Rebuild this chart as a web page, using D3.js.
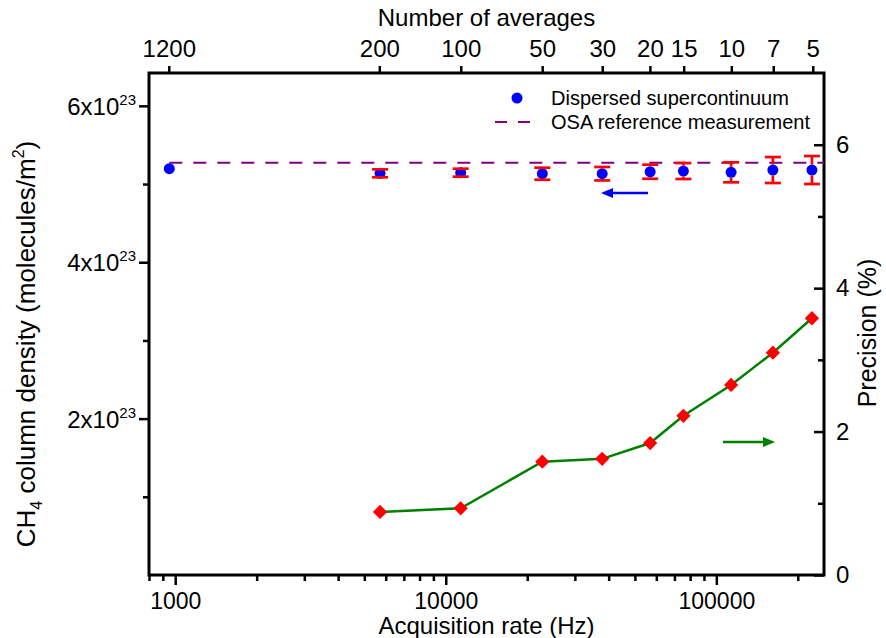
<!DOCTYPE html>
<html>
<head>
<meta charset="utf-8">
<script src="https://cdn.jsdelivr.net/npm/d3@7"></script>
<style>
  body { margin: 0; background: #fff; }
  text { font-family: "Liberation Sans", Arial, sans-serif; fill: #000; }
</style>
</head>
<body>
<div id="chart"></div>
<script>
// number of averages and matching acquisition rate (Hz)
var averages = [1200, 200, 100, 50, 30, 20, 15, 10, 7, 5];
var rates = [951, 5715, 11350, 22740, 37850, 56940, 75550, 113400, 161800, 225600];
// CH4 column density (1e23 molecules/m^2) and its error
var density = [5.196, 5.137, 5.145, 5.132, 5.132, 5.157, 5.166, 5.150, 5.179, 5.179];
var densityErr = [0, 0.051, 0.051, 0.077, 0.086, 0.09, 0.102, 0.128, 0.166, 0.179];
// precision (%) - no value for 1200 averages
var precisionRates = [5715, 11350, 22740, 37850, 56940, 75550, 113400, 161800, 225600];
var precision = [0.88, 0.93, 1.58, 1.62, 1.84, 2.22, 2.65, 3.10, 3.58];
// OSA reference value (1e23 molecules/m^2)
var osaReference = 5.272;
// rate x averages (Hz)
var ratePerAverage = 1.136e6;

var topTicks = [1200, 200, 100, 50, 30, 20, 15, 10, 7, 5];
var bottomTicks = [1000, 10000, 100000];
var leftTicks = [2, 4, 6];
var leftMinor = [1, 3, 5];
var rightTicks = [0, 2, 4, 6];
var rightMinor = [1, 3, 5];

var margin = {top: 73, right: 62, bottom: 63, left: 149},
  width = 886 - margin.left - margin.right,
  height = 638 - margin.top - margin.bottom;

var svg = d3.select("#chart")
  .append("svg")
    .attr("width", 886)
    .attr("height", 638)
  .append("g")
    .attr("transform", "translate(" + margin.left + "," + margin.top + ")");

var x = d3.scaleLog().domain([800, 250000]).range([0, width]);
var xTop = d3.scaleLog().domain([ratePerAverage / 800, ratePerAverage / 250000]).range([0, width]);
var y = d3.scaleLinear().domain([0, 6.42]).range([height, 0]);
var y2 = d3.scaleLinear().domain([0, 7]).range([height, 0]);

function styleAxis(g) {
  g.select(".domain").remove();
  g.selectAll(".tick line").attr("stroke", "#000").attr("stroke-width", 2.5);
  g.selectAll("text").style("font-size", "24px");
}

// bottom axis
var minorX = x.ticks().filter(function(d) { return bottomTicks.indexOf(d) < 0; });
svg.append("g")
  .attr("transform", "translate(0," + height + ")")
  .call(d3.axisBottom(x).tickValues(minorX).tickSize(6).tickFormat(""))
  .call(styleAxis);
svg.append("g")
  .attr("transform", "translate(0," + height + ")")
  .call(d3.axisBottom(x).tickValues(bottomTicks).tickSize(10).tickPadding(8).tickFormat(d3.format("d")))
  .call(styleAxis)
  .selectAll("text").style("font-size", "23px");

// top axis
svg.append("g")
  .call(d3.axisTop(xTop).tickValues(topTicks).tickSize(7).tickPadding(9).tickFormat(d3.format("d")))
  .call(styleAxis);

// left axis
svg.append("g")
  .call(d3.axisLeft(y).tickValues(leftMinor).tickSize(6).tickFormat(""))
  .call(styleAxis);
var leftAxis = svg.append("g")
  .call(d3.axisLeft(y).tickValues(leftTicks).tickSize(10).tickFormat(""))
  .call(styleAxis);
var leftText = leftAxis.selectAll(".tick").append("text")
  .attr("x", -13)
  .attr("dy", "0.35em")
  .attr("text-anchor", "end")
  .style("font-size", "24px");
leftText.append("tspan").text(function(d) { return d + "x10"; });
leftText.append("tspan").attr("dy", -10).style("font-size", "15px").text("23");

// right axis, ticks point inwards
svg.append("g")
  .attr("transform", "translate(" + width + ",0)")
  .call(d3.axisRight(y2).tickValues(rightMinor).tickSize(-6).tickFormat(""))
  .call(styleAxis);
svg.append("g")
  .attr("transform", "translate(" + width + ",0)")
  .call(d3.axisRight(y2).tickValues(rightTicks).tickSize(-10).tickPadding(12).tickFormat(d3.format("d")))
  .call(styleAxis);

// frame
svg.append("rect")
  .attr("width", width)
  .attr("height", height)
  .attr("fill", "none")
  .attr("stroke", "#000")
  .attr("stroke-width", 3);

// axis titles
svg.append("text")
  .attr("x", width / 2)
  .attr("y", -47)
  .attr("text-anchor", "middle")
  .style("font-size", "24px")
  .text("Number of averages");
svg.append("text")
  .attr("x", width / 2)
  .attr("y", height + 59)
  .attr("text-anchor", "middle")
  .style("font-size", "24px")
  .text("Acquisition rate (Hz)");

var yLabel = svg.append("text")
  .attr("transform", "translate(-114," + (344 - margin.top) + ")rotate(-90)")
  .attr("text-anchor", "middle")
  .style("font-size", "26px");
yLabel.append("tspan").text("CH");
yLabel.append("tspan").attr("dy", 7).style("font-size", "16px").text("4");
yLabel.append("tspan").attr("dy", -7).text(" column density (molecules/m");
yLabel.append("tspan").attr("dy", -11).style("font-size", "16px").text("2");
yLabel.append("tspan").attr("dy", 11).text(")");

svg.append("text")
  .attr("transform", "translate(" + (width + 52) + "," + (333 - margin.top) + ")rotate(-90)")
  .attr("text-anchor", "middle")
  .style("font-size", "25px")
  .text("Precision (%)");

// OSA reference line
svg.append("line")
  .attr("x1", x(rates[0]))
  .attr("x2", width)
  .attr("y1", y(osaReference))
  .attr("y2", y(osaReference))
  .attr("stroke", "#800080")
  .attr("stroke-width", 2)
  .attr("stroke-dasharray", "13,11");

// precision line and diamonds
var precisionData = precisionRates.map(function(r, i) { return {rate: r, value: precision[i]}; });
svg.append("path")
  .datum(precisionData)
  .attr("fill", "none")
  .attr("stroke", "#008000")
  .attr("stroke-width", 2.5)
  .attr("d", d3.line()
    .x(function(d) { return x(d.rate); })
    .y(function(d) { return y2(d.value); }));
svg.selectAll(".diamond")
  .data(precisionData)
  .enter()
  .append("path")
    .attr("class", "diamond")
    .attr("transform", function(d) { return "translate(" + x(d.rate) + "," + y2(d.value) + ")"; })
    .attr("d", d3.symbol().type(d3.symbolDiamond2).size(130))
    .attr("fill", "#ff0000");

// density points with error bars
var densityData = rates.map(function(r, i) { return {rate: r, value: density[i], err: densityErr[i]}; });
var r = 5.5;
svg.selectAll(".dot")
  .data(densityData)
  .enter()
  .append("circle")
    .attr("class", "dot")
    .attr("cx", function(d) { return x(d.rate); })
    .attr("cy", function(d) { return y(d.value); })
    .attr("r", r)
    .attr("fill", "#0000ff");

var bars = svg.selectAll(".err")
  .data(densityData.filter(function(d) { return d.err > 0; }))
  .enter()
  .append("g")
    .attr("class", "err")
    .attr("stroke", "#ff0000")
    .attr("stroke-width", 2.7);
bars.each(function(d) {
  var g = d3.select(this),
    cx = x(d.rate), cy = y(d.value),
    top = y(d.value + d.err), bot = y(d.value - d.err);
  if (cy - top > r) {
    g.append("line").attr("x1", cx).attr("x2", cx).attr("y1", top).attr("y2", cy - r);
    g.append("line").attr("x1", cx).attr("x2", cx).attr("y1", cy + r).attr("y2", bot);
  }
  g.append("line").attr("x1", cx - 8).attr("x2", cx + 8).attr("y1", top).attr("y2", top);
  g.append("line").attr("x1", cx - 8).attr("x2", cx + 8).attr("y1", bot).attr("y2", bot);
});

// arrows showing which axis each series uses
function arrow(x1, x2, yy, color) {
  var dir = x2 > x1 ? 1 : -1;
  svg.append("line")
    .attr("x1", x1).attr("x2", x2 - dir * 9)
    .attr("y1", yy).attr("y2", yy)
    .attr("stroke", color).attr("stroke-width", 2.5);
  svg.append("path")
    .attr("d", "M" + x2 + "," + yy + "L" + (x2 - dir * 12) + "," + (yy - 5) + "L" + (x2 - dir * 12) + "," + (yy + 5) + "Z")
    .attr("fill", color);
}
arrow(648 - margin.left, 601 - margin.left, 193 - margin.top, "#0000ff");
arrow(723 - margin.left, 775 - margin.left, 442 - margin.top, "#008000");

// legend
var legend = svg.append("g").attr("transform", "translate(" + (495 - margin.left) + "," + (98 - margin.top) + ")");
legend.append("circle").attr("cx", 22).attr("cy", 0).attr("r", r).attr("fill", "#0000ff");
legend.append("text").attr("x", 56).attr("dy", "0.35em").style("font-size", "20px").text("Dispersed supercontinuum");
legend.append("line")
  .attr("x1", 0).attr("x2", 35).attr("y1", 24).attr("y2", 24)
  .attr("stroke", "#800080").attr("stroke-width", 2)
  .attr("stroke-dasharray", "12,11");
legend.append("text").attr("x", 56).attr("y", 24).attr("dy", "0.35em").style("font-size", "20px").text("OSA reference measurement");
</script>
</body>
</html>
